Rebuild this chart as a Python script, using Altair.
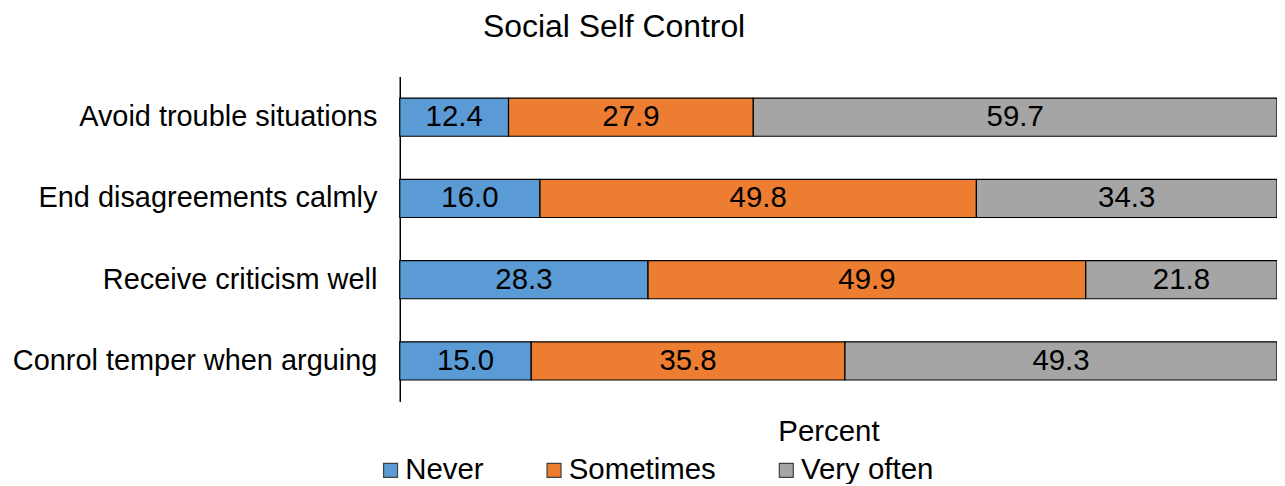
import altair as alt
import pandas as pd

categories = ["Avoid trouble situations", "End disagreements calmly",
              "Receive criticism well", "Conrol temper when arguing"]
series = ["Never", "Sometimes", "Very often"]
never = [12.4, 16.0, 28.3, 15.0]
sometimes = [27.9, 49.8, 49.9, 35.8]
very_often = [59.7, 34.3, 21.8, 49.3]
colors = ["#5B9BD5", "#ED7D31", "#A5A5A5"]

rows = []
for i, c in enumerate(categories):
    for j, (s, vals) in enumerate(zip(series, [never, sometimes, very_often])):
        rows.append({"cat": c, "series": s, "order": j, "value": vals[i]})
df = pd.DataFrame(rows)

FONT = "Liberation Sans"
FS = 29.5

base = alt.Chart(df).transform_joinaggregate(
    total="sum(value)", groupby=["cat"]
).transform_window(
    cum="sum(value)", sort=[alt.SortField("order")], groupby=["cat"],
    frame=[None, 0]
).transform_calculate(
    x0="(datum.cum - datum.value) / datum.total * 100",
    x1="datum.cum / datum.total * 100",
    mid="(datum.cum - datum.value / 2) / datum.total * 100",
)

xscale = alt.Scale(domain=[0, 100], nice=False)
yenc = alt.Y("cat:N", sort=categories,
             scale=alt.Scale(paddingInner=0.53, paddingOuter=0.265),
             axis=alt.Axis(title=None, domain=True, domainColor="#000000",
                           domainWidth=1.5, ticks=False, labelFontSize=29,
                           labelFont=FONT, labelColor="#000000",
                           labelPadding=23, labelLimit=500))

bars = base.mark_bar(stroke="#000000", strokeWidth=1.2).encode(
    x=alt.X("x0:Q", scale=xscale,
            axis=alt.Axis(title="Percent", domain=False, labels=False,
                          ticks=False, grid=False, titleFontSize=FS,
                          titleFont=FONT, titleFontWeight="normal",
                          titleColor="#000000", titleX=430, titleY=30,
                          titleBaseline="middle")),
    x2="x1:Q",
    y=yenc,
    color=alt.Color("series:N", sort=series,
                    scale=alt.Scale(domain=series, range=colors),
                    legend=alt.Legend(title=None, orient="none",
                                      direction="horizontal",
                                      legendX=-24, legendY=380,
                                      symbolType="square", symbolSize=196,
                                      symbolStrokeColor="#404040",
                                      symbolStrokeWidth=1.2,
                                      symbolOpacity=1,
                                      labelFontSize=FS, labelFont=FONT,
                                      labelColor="#000000", labelOffset=0,
                                      columnPadding=55, labelLimit=300)),
)

labels = base.mark_text(fontSize=FS, font=FONT, color="#000000").encode(
    x=alt.X("mid:Q", scale=xscale),
    y=alt.Y("cat:N", sort=categories),
    text=alt.Text("value:Q", format=".1f"),
)

chart = alt.layer(bars, labels).properties(
    width=880, height=326,
    title=alt.TitleParams("Social Self Control", fontSize=32, font=FONT,
                          fontWeight="normal", color="#000000",
                          anchor="middle", dx=-225, dy=-29),
    autosize=alt.AutoSizeParams(type="none"),
    padding={"left": 393, "top": 68, "right": 0, "bottom": 82},
).configure_view(stroke=None)

chart.save("out.html", embed_options={"renderer": "svg", "actions": False})
